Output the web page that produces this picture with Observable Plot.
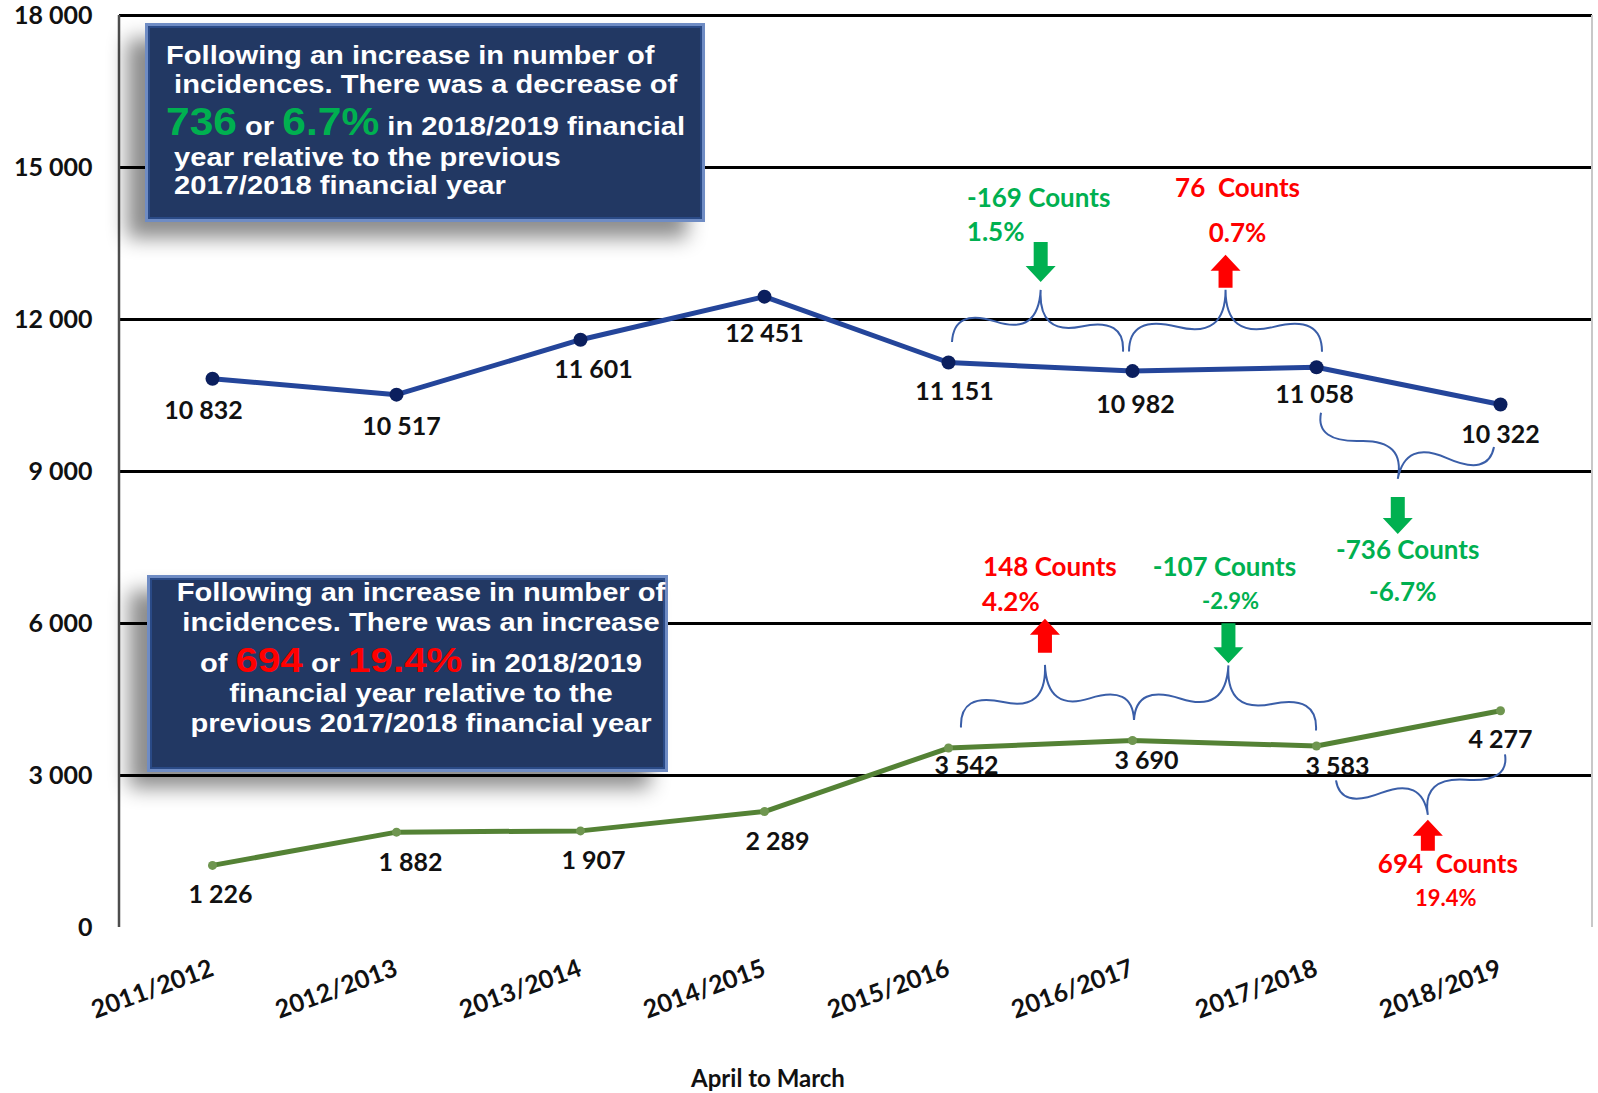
<!DOCTYPE html>
<html>
<head>
<meta charset="utf-8">
<script src="https://cdn.jsdelivr.net/npm/d3@7"></script>
<script src="https://cdn.jsdelivr.net/npm/@observablehq/plot@0.6"></script>
<style>
  html, body { margin: 0; padding: 0; background: #fff; }
  #chart svg { display: block; }
</style>
</head>
<body>
<div id="chart"></div>
<script>
// ---------- data ----------
const years = ["2011/2012", "2012/2013", "2013/2014", "2014/2015", "2015/2016", "2016/2017", "2017/2018", "2018/2019"];
const upperSeries = [10832, 10517, 11601, 12451, 11151, 10982, 11058, 10322];
const lowerSeries = [1226, 1882, 1907, 2289, 3542, 3690, 3583, 4277];
const yTicks = [0, 3000, 6000, 9000, 12000, 15000, 18000];
const xTitle = "April to March";

const upperChanges = [
  {from: "2015/2016", to: "2016/2017", counts: "-169 Counts", pct: "1.5%", dir: "down"},
  {from: "2016/2017", to: "2017/2018", counts: "76  Counts", pct: "0.7%", dir: "up"},
  {from: "2017/2018", to: "2018/2019", counts: "-736 Counts", pct: "-6.7%", dir: "down"}
];
const lowerChanges = [
  {from: "2015/2016", to: "2016/2017", counts: "148 Counts", pct: "4.2%", dir: "up"},
  {from: "2016/2017", to: "2017/2018", counts: "-107 Counts", pct: "-2.9%", dir: "down"},
  {from: "2017/2018", to: "2018/2019", counts: "694  Counts", pct: "19.4%", dir: "up"}
];

const upperBox = [
  [{t: "Following an increase in number of"}],
  [{t: " incidences. There was a decrease of"}],
  [{t: "736", hi: true}, {t: " or "}, {t: "6.7%", hi: true}, {t: " in 2018/2019 financial"}],
  [{t: " year relative to the previous"}],
  [{t: " 2017/2018 financial year"}]
];
const lowerBox = [
  [{t: "Following an increase in number of"}],
  [{t: "incidences. There was an increase"}],
  [{t: "of "}, {t: "694", hi: true}, {t: " or "}, {t: "19.4%", hi: true}, {t: " in 2018/2019"}],
  [{t: "financial year relative to the"}],
  [{t: "previous 2017/2018 financial year"}]
];

// ---------- layout / style ----------
const W = 1598, H = 1093;
const GREEN = "#00b050", RED = "#ff0000";
const upperLabelOffsets = [[-9, 32], [5, 32], [13, 30], [0, 37], [6, 29], [3, 34], [-2, 28], [0, 30]];
const lowerLabelOffsets = [[8, 30], [14, 31], [13, 30], [13, 30], [18, 18], [14, 20], [21, 21], [0, 29]];
const upperLayout = [
  {side: "above", a: [4, -20], b: [-9, -19], w: 57, arrow: [-48, -8], counts: [-2, -92], pct: [-45, -58], pctSize: 26},
  {side: "above", a: [-3, -19], b: [6, -15], w: 62, arrow: [-35, -2], counts: [12, -102], pct: [12, -57], pctSize: 26},
  {side: "below", a: [5, 46], b: [-6, 43], w: 50, arrow: [18, 55], counts: [10, 71], pct: [5, 113], pctSize: 26}
];
const lowerLayout = [
  {side: "above", a: [13, -20], b: [2, -20], w: 59, arrow: [-46, -12], counts: [5, -98], pct: [-34, -63], pctSize: 26},
  {side: "above", a: [2, -20], b: [0, -15], w: 60, arrow: [-42, -2], counts: [-4, -98], pct: [2, -64], pctSize: 22},
  {side: "below", a: [20, 35], b: [5, 44], w: 48, arrow: [5, 36], counts: [20, 49], pct: [18, 83], pctSize: 22}
];

const fmt = d => d3.format(",")(d).replace(/,/g, " ");
const rowsU = years.map((year, i) => ({year, value: upperSeries[i]}));
const rowsL = years.map((year, i) => ({year, value: lowerSeries[i]}));
const FONT = "Lato, 'Open Sans', sans-serif";
const mLeft = 119, mRight = 6, mTop = 15, mBottom = 166;

const chart = Plot.plot({
  width: W,
  height: H,
  marginLeft: mLeft,
  marginRight: mRight,
  marginTop: mTop,
  marginBottom: mBottom,
  style: {fontFamily: FONT, fontWeight: "bold", color: "#111", background: "#fff", overflow: "visible"},
  x: {type: "point", domain: years, padding: 0.5, label: null},
  y: {domain: [0, 18000], label: null},
  marks: [
    Plot.ruleY(yTicks.filter(d => d > 0), {stroke: "#000", strokeWidth: 3}),
    Plot.axisY({ticks: yTicks, tickFormat: fmt, tickSize: 0, tickPadding: 27, fontSize: 25, fontWeight: "bold", fill: "#111", label: null}),
    Plot.axisX({tickSize: 0, tickPadding: 40, tickRotate: -20, fontSize: 25, fontWeight: "bold", fill: "#111", label: null}),
    Plot.line(rowsU, {x: "year", y: "value", stroke: "#24459a", strokeWidth: 5}),
    Plot.dot(rowsU, {x: "year", y: "value", r: 7, fill: "#0b1f5e"}),
    Plot.line(rowsL, {x: "year", y: "value", stroke: "#548235", strokeWidth: 5}),
    Plot.dot(rowsL, {x: "year", y: "value", r: 4.5, fill: "#6f9650"}),
    ...rowsU.map((d, i) => Plot.text([d], {x: "year", y: "value", text: r => fmt(r.value), dx: upperLabelOffsets[i][0], dy: upperLabelOffsets[i][1], fontSize: 25, fontWeight: "bold", fill: "#111"})),
    ...rowsL.map((d, i) => Plot.text([d], {x: "year", y: "value", text: r => fmt(r.value), dx: lowerLabelOffsets[i][0], dy: lowerLabelOffsets[i][1], fontSize: 25, fontWeight: "bold", fill: "#111"})),
    Plot.text([xTitle], {frameAnchor: "bottom", dx: -88, dy: 159, fontSize: 24, fontWeight: "bold", fill: "#111"})
  ]
});

document.getElementById("chart").appendChild(chart);

// ---------- annotations drawn with the plot's own scales ----------
const svg = d3.select(chart);
const sx = chart.scale("x"), sy = chart.scale("y");
const X = v => sx.apply(v), Y = v => sy.apply(v);
const fL = mLeft, fR = W - mRight, fT = mTop, fB = H - mBottom;

const defs = svg.append("defs");
const sh = defs.append("filter").attr("id", "boxShadow").attr("x", "-20%").attr("y", "-20%").attr("width", "140%").attr("height", "140%");
sh.append("feDropShadow").attr("dx", -18).attr("dy", 16).attr("stdDeviation", 10).attr("flood-color", "#000").attr("flood-opacity", 0.45);
const sh2 = defs.append("filter").attr("id", "lineShadow").attr("x", "-5%").attr("y", "-50%").attr("width", "110%").attr("height", "400%");
sh2.append("feDropShadow").attr("dx", 0).attr("dy", 3).attr("stdDeviation", 2).attr("flood-color", "#000").attr("flood-opacity", 0.35);

const frameG = svg.append("g");
frameG.append("line").attr("x1", fR).attr("x2", fR).attr("y1", fT).attr("y2", fB).attr("stroke", "#c8c8c8").attr("stroke-width", 2);
frameG.append("line").attr("x1", fL).attr("x2", fR).attr("y1", fB).attr("y2", fB).attr("stroke", "#4d4d4d").attr("stroke-width", 3).attr("filter", "url(#lineShadow)");
frameG.append("line").attr("x1", fL).attr("x2", fL).attr("y1", fT).attr("y2", fB).attr("stroke", "#4d4d4d").attr("stroke-width", 2.5);

function bracePath(x1, y1, x2, y2, w, q) {
  const len = Math.hypot(x1 - x2, y1 - y2);
  const dx = (x1 - x2) / len, dy = (y1 - y2) / len;
  const qx1 = x1 + q * w * dy, qy1 = y1 - q * w * dx;
  const qx2 = (x1 - .25 * len * dx) + (1 - q) * w * dy, qy2 = (y1 - .25 * len * dy) - (1 - q) * w * dx;
  const tx = (x1 - .5 * len * dx) + w * dy, ty = (y1 - .5 * len * dy) - w * dx;
  const qx3 = x2 + q * w * dy, qy3 = y2 - q * w * dx;
  const qx4 = (x1 - .75 * len * dx) + (1 - q) * w * dy, qy4 = (y1 - .75 * len * dy) - (1 - q) * w * dx;
  return {d: `M${x1},${y1}Q${qx1},${qy1} ${qx2},${qy2}T${tx},${ty}M${x2},${y2}Q${qx3},${qy3} ${qx4},${qy4}T${tx},${ty}`, tx, ty};
}
function arrowPath(x, y0, y1, dir) {
  const sw = 14, hw = 30, hl = 16;
  const a = Math.min(y0, y1), b = Math.max(y0, y1);
  if (dir === "down") {
    return `M${x - sw / 2},${a}L${x + sw / 2},${a}L${x + sw / 2},${b - hl}L${x + hw / 2},${b - hl}L${x},${b}L${x - hw / 2},${b - hl}L${x - sw / 2},${b - hl}Z`;
  }
  return `M${x - sw / 2},${b}L${x + sw / 2},${b}L${x + sw / 2},${a + hl}L${x + hw / 2},${a + hl}L${x},${a}L${x - hw / 2},${a + hl}L${x - sw / 2},${a + hl}Z`;
}

const ann = svg.append("g");
function drawChanges(changes, layout, series) {
  changes.forEach((c, k) => {
    const L = layout[k];
    const i = years.indexOf(c.from), j = years.indexOf(c.to);
    const ax = X(c.from) + L.a[0], ay = Y(series[i]) + L.a[1];
    const bx = X(c.to) + L.b[0], by = Y(series[j]) + L.b[1];
    const br = L.side === "above" ? bracePath(bx, by, ax, ay, L.w, 0.6) : bracePath(ax, ay, bx, by, L.w, 0.6);
    ann.append("path").attr("d", br.d).attr("fill", "none").attr("stroke", "#3a5ea8").attr("stroke-width", 2);
    const col = c.dir === "down" ? GREEN : RED;
    ann.append("path").attr("d", arrowPath(br.tx, br.ty + L.arrow[0], br.ty + L.arrow[1], c.dir)).attr("fill", col);
    ann.append("text").attr("x", br.tx + L.counts[0]).attr("y", br.ty + L.counts[1]).attr("dy", "0.35em")
      .attr("text-anchor", "middle").attr("font-family", FONT).attr("font-weight", "bold").attr("font-size", 26)
      .attr("fill", col).style("white-space", "pre").text(c.counts);
    ann.append("text").attr("x", br.tx + L.pct[0]).attr("y", br.ty + L.pct[1]).attr("dy", "0.35em")
      .attr("text-anchor", "middle").attr("font-family", FONT).attr("font-weight", "bold").attr("font-size", L.pctSize)
      .attr("fill", col).text(c.pct);
  });
}
drawChanges(upperChanges, upperLayout, upperSeries);
drawChanges(lowerChanges, lowerLayout, lowerSeries);

// ---------- text boxes ----------
function drawBox(lines, box, hiColor) {
  const g = svg.append("g");
  g.append("rect").attr("x", box.x).attr("y", box.y).attr("width", box.w).attr("height", box.h)
    .attr("fill", "#203864").attr("filter", "url(#boxShadow)");
  g.append("rect").attr("x", box.x + 1.5).attr("y", box.y + 1.5).attr("width", box.w - 3).attr("height", box.h - 3)
    .attr("fill", "none").attr("stroke", "#6f8cc4").attr("stroke-width", 3);
  g.append("rect").attr("x", box.x + 4).attr("y", box.y + 4).attr("width", box.w - 8).attr("height", box.h - 8)
    .attr("fill", "none").attr("stroke", "#2a4a86").attr("stroke-width", 2);
  const tg = g.append("g").attr("transform", `translate(${box.tx},0) scale(1.12,1)`);
  lines.forEach((segs, li) => {
    const t = tg.append("text").attr("x", 0).attr("y", box.baselines[li])
      .attr("text-anchor", box.anchor).attr("font-family", "'Liberation Sans', Arial, sans-serif")
      .attr("font-weight", "bold").attr("font-size", 26).attr("fill", "#fff").style("white-space", "pre");
    segs.forEach(s => {
      const ts = t.append("tspan").text(s.t);
      if (s.hi) ts.attr("fill", hiColor).attr("font-size", box.big);
    });
  });
}
drawBox(upperBox, {x: 145, y: 23, w: 560, h: 199, tx: 166, anchor: "start", baselines: [64, 93, 135, 166, 194], big: 38}, GREEN);
drawBox(lowerBox, {x: 147, y: 575, w: 521, h: 197, tx: 421, anchor: "middle", baselines: [601, 631, 672, 702, 732], big: 36}, RED);
</script>
</body>
</html>
